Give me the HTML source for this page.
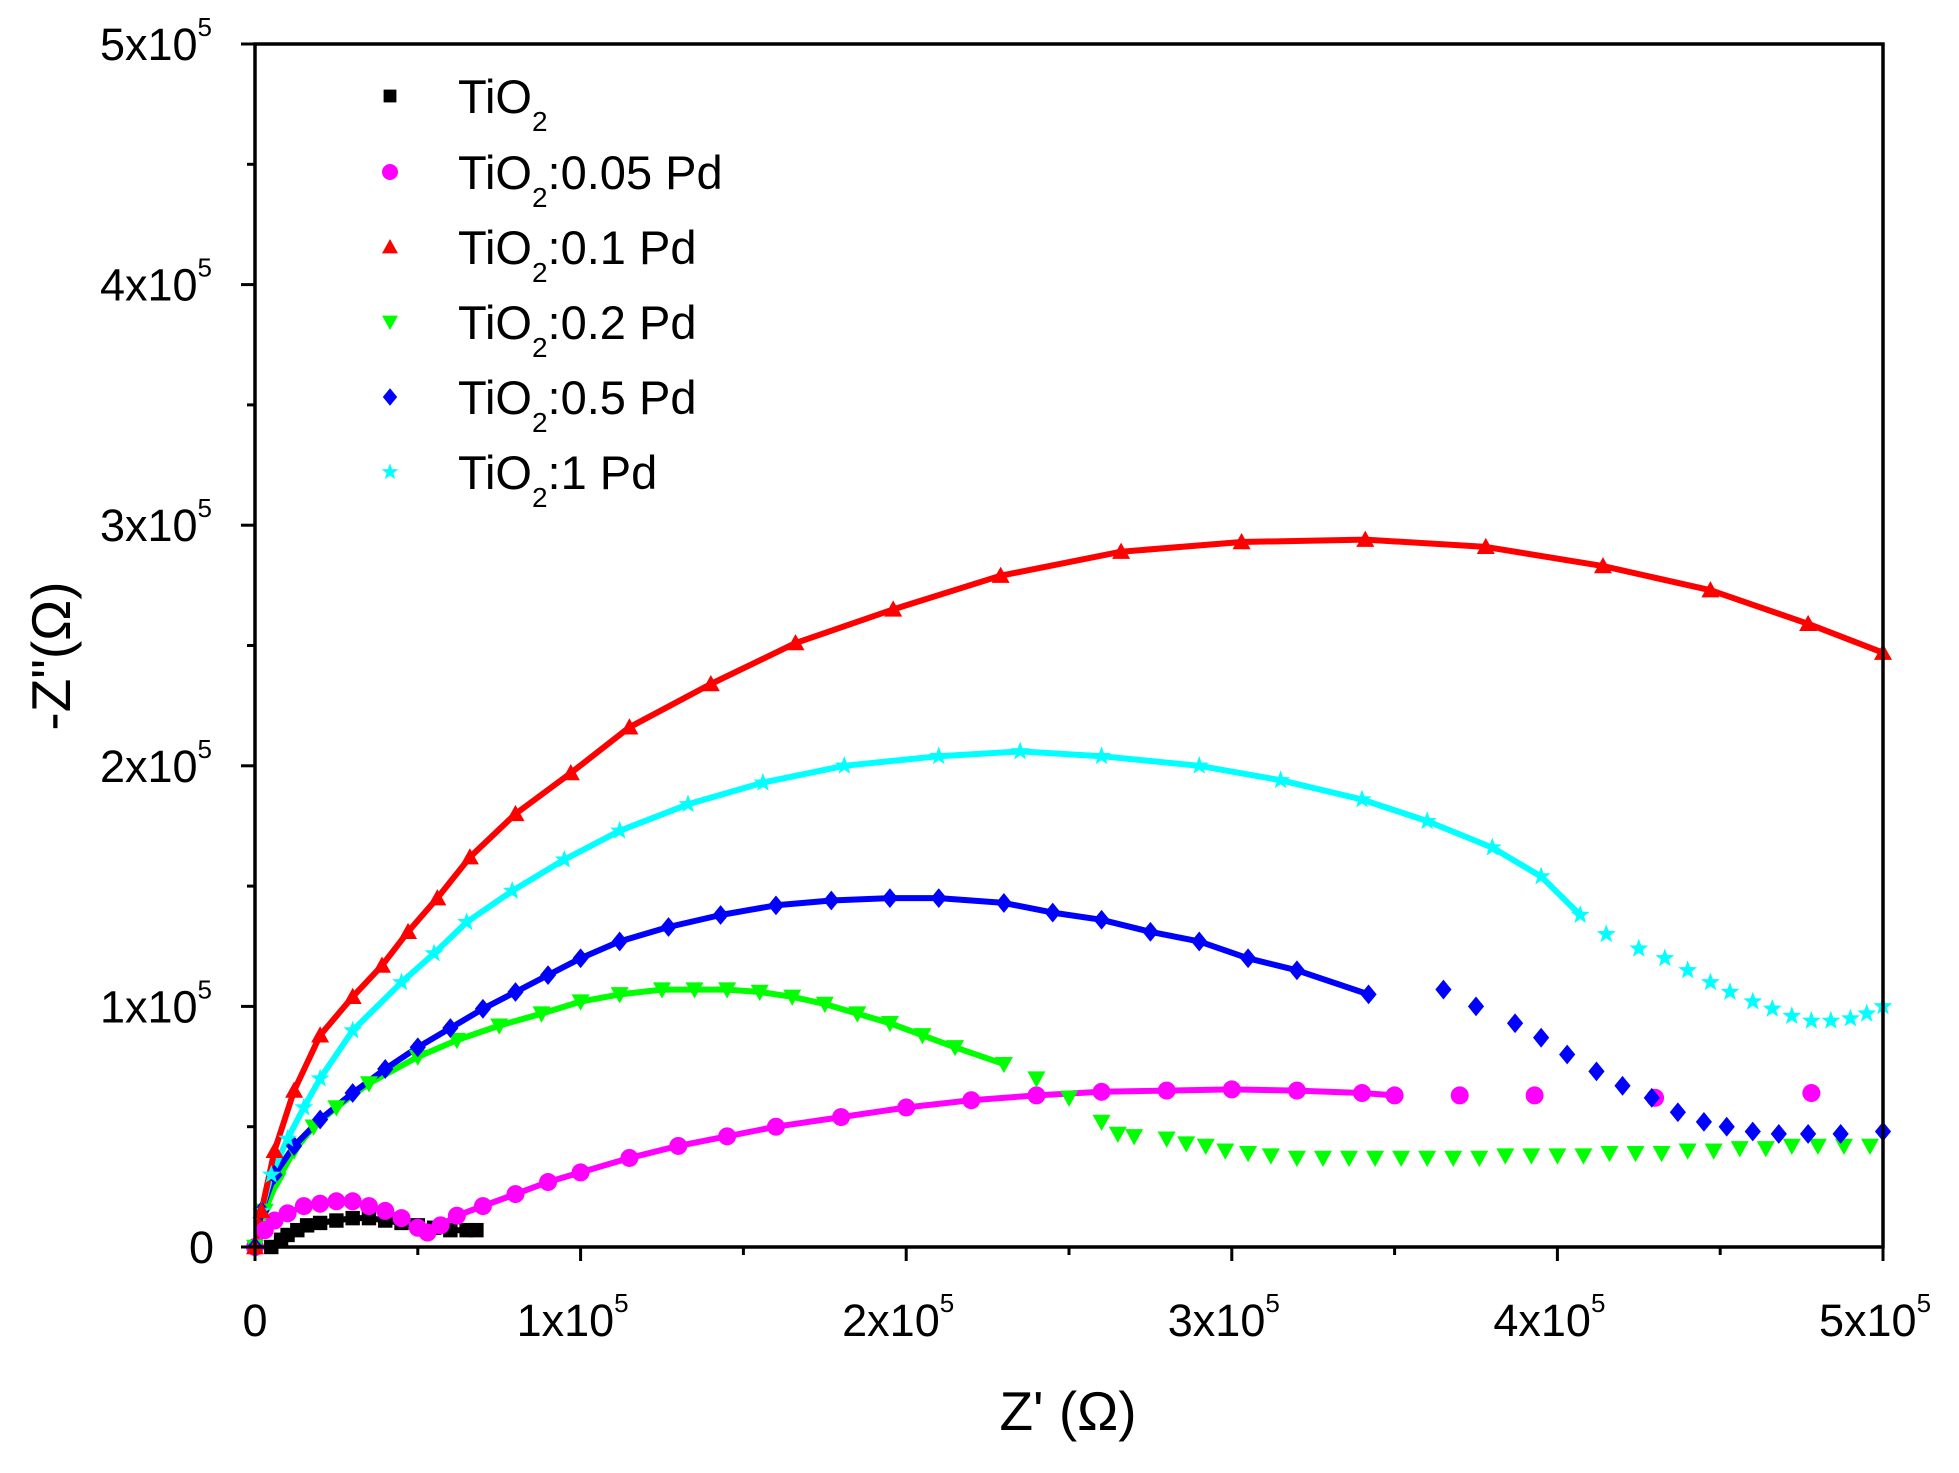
<!DOCTYPE html>
<html><head><meta charset="utf-8"><style>
body{margin:0;background:#fff;}
svg text{font-family:"Liberation Sans",sans-serif;fill:#000;}
</style></head><body>
<svg id="chart" width="1959" height="1468" xmlns="http://www.w3.org/2000/svg">
<g id="fits"></g>
<g id="marks"></g>
<g id="axes"></g>
<g id="legend"></g>
</svg>
<script>
const xTicks=[0,1,2,3,4,5];
const yTicks=[0,1,2,3,4,5];
const tickLabels=["0","1x10","2x10","3x10","4x10","5x10"];
const seriesNames=["TiO2","TiO2:0.05 Pd","TiO2:0.1 Pd","TiO2:0.2 Pd","TiO2:0.5 Pd","TiO2:1 Pd"];
// values in units of 1e5 ohm
const blackX=[0.05,0.08,0.1,0.13,0.16,0.2,0.25,0.3,0.35,0.4,0.45,0.5,0.55,0.6,0.65,0.68];
const blackY=[0.0,0.03,0.05,0.07,0.09,0.1,0.11,0.12,0.12,0.11,0.1,0.09,0.08,0.07,0.07,0.07];
const magX=[0.0,0.03,0.06,0.1,0.15,0.2,0.25,0.3,0.35,0.4,0.45,0.5,0.53,0.57,0.62,0.7,0.8,0.9,1.0,1.15,1.3,1.45,1.6,1.8,2.0,2.2,2.4,2.6,2.8,3.0,3.2,3.4,3.5];
const magY=[0.0,0.07,0.11,0.14,0.17,0.18,0.19,0.19,0.17,0.15,0.12,0.08,0.06,0.09,0.13,0.17,0.22,0.27,0.31,0.37,0.42,0.46,0.5,0.54,0.58,0.61,0.63,0.645,0.65,0.655,0.65,0.64,0.63];
const magScatX=[3.7,3.93,4.3,4.78];
const magScatY=[0.63,0.63,0.62,0.64];
const redX=[0.0,0.02,0.06,0.12,0.2,0.3,0.39,0.47,0.56,0.66,0.8,0.97,1.15,1.4,1.66,1.96,2.29,2.66,3.03,3.41,3.78,4.14,4.47,4.77,5.0];
const redY=[0.0,0.15,0.4,0.65,0.88,1.04,1.17,1.31,1.45,1.62,1.8,1.97,2.16,2.34,2.51,2.65,2.79,2.89,2.93,2.94,2.91,2.83,2.73,2.59,2.47];
const greenX=[0.0,0.03,0.07,0.12,0.18,0.25,0.35,0.5,0.62,0.75,0.88,1.0,1.12,1.25,1.35,1.45,1.55,1.65,1.75,1.85,1.95,2.05,2.15,2.3];
const greenY=[0.0,0.15,0.28,0.4,0.5,0.58,0.68,0.79,0.86,0.92,0.97,1.02,1.05,1.07,1.07,1.07,1.06,1.04,1.01,0.97,0.93,0.88,0.83,0.76];
const greenScatX=[2.4,2.5,2.6,2.65,2.7,2.8,2.86,2.92,2.98,3.05,3.12,3.2,3.28,3.36,3.44,3.52,3.6,3.68,3.76,3.84,3.92,4.0,4.08,4.16,4.24,4.32,4.4,4.48,4.56,4.64,4.72,4.8,4.88,4.96];
const greenScatY=[0.7,0.62,0.52,0.47,0.46,0.45,0.43,0.42,0.4,0.39,0.38,0.37,0.37,0.37,0.37,0.37,0.37,0.37,0.37,0.38,0.38,0.38,0.38,0.39,0.39,0.39,0.4,0.4,0.41,0.41,0.42,0.42,0.42,0.42];
const blueX=[0.0,0.02,0.06,0.12,0.2,0.3,0.4,0.5,0.6,0.7,0.8,0.9,1.0,1.12,1.27,1.43,1.6,1.77,1.95,2.1,2.3,2.45,2.6,2.75,2.9,3.05,3.2,3.42];
const blueY=[0.0,0.15,0.3,0.42,0.53,0.64,0.74,0.83,0.91,0.99,1.06,1.13,1.2,1.27,1.33,1.38,1.42,1.44,1.45,1.45,1.43,1.39,1.36,1.31,1.27,1.2,1.15,1.05];
const blueScatX=[3.65,3.75,3.87,3.95,4.03,4.12,4.2,4.29,4.37,4.45,4.52,4.6,4.68,4.77,4.87,5.0];
const blueScatY=[1.07,1.0,0.93,0.87,0.8,0.73,0.67,0.62,0.56,0.52,0.5,0.48,0.47,0.47,0.47,0.48];
const cyanX=[0.02,0.05,0.1,0.15,0.2,0.3,0.45,0.55,0.65,0.79,0.95,1.12,1.33,1.56,1.81,2.1,2.35,2.6,2.9,3.15,3.4,3.6,3.8,3.95,4.07];
const cyanY=[0.15,0.3,0.45,0.58,0.7,0.9,1.1,1.22,1.35,1.48,1.61,1.73,1.84,1.93,2.0,2.04,2.06,2.04,2.0,1.94,1.86,1.77,1.66,1.54,1.38];
const cyanScatX=[4.15,4.25,4.33,4.4,4.47,4.53,4.6,4.66,4.72,4.78,4.84,4.9,4.95,5.0];
const cyanScatY=[1.3,1.24,1.2,1.15,1.1,1.06,1.02,0.99,0.96,0.94,0.94,0.95,0.97,1.0];

const L=255,R=1883,T=44,B=1247;
const sx=v=>L+v/5*(R-L), sy=v=>B-v/5*(B-T);
const NS="http://www.w3.org/2000/svg";
function mk(tag,attrs,parent){const e=document.createElementNS(NS,tag);for(const k in attrs)e.setAttribute(k,attrs[k]);parent.appendChild(e);return e;}
const fits=document.getElementById('fits'),marks=document.getElementById('marks'),axes=document.getElementById('axes'),leg=document.getElementById('legend');
const colors=["#000000","#ff00ff","#ff0000","#00ff00","#0000ff","#00ffff"];
function marker(type,cx,cy,s,col,parent){
  let e;
  if(type===0){e=mk('rect',{x:cx-s*0.8,y:cy-s*0.8,width:s*1.6,height:s*1.6,fill:col},parent);}
  else if(type===1){e=mk('circle',{cx:cx,cy:cy,r:s,fill:col},parent);}
  else if(type===2){e=mk('polygon',{points:`${cx},${cy-s} ${cx-s},${cy+s*0.8} ${cx+s},${cy+s*0.8}`,fill:col},parent);}
  else if(type===3){e=mk('polygon',{points:`${cx},${cy+s} ${cx-s},${cy-s*0.8} ${cx+s},${cy-s*0.8}`,fill:col},parent);}
  else if(type===4){e=mk('polygon',{points:`${cx},${cy-s*1.1} ${cx+s*0.9},${cy} ${cx},${cy+s*1.1} ${cx-s*0.9},${cy}`,fill:col},parent);}
  else {let p=[];for(let i=0;i<10;i++){const r=i%2?s*0.45:s*1.1,a=-Math.PI/2+i*Math.PI/5;p.push((cx+r*Math.cos(a)).toFixed(1)+','+(cy+r*Math.sin(a)).toFixed(1));}
    e=mk('polygon',{points:p.join(' '),fill:col},parent);}
  return e;
}
function drawSeries(idx,xs,ys,line,name){
  if(line){
    const d=xs.map((x,i)=>(i?'L':'M')+sx(x).toFixed(1)+','+sy(ys[i]).toFixed(1)).join(' ');
    const p=mk('path',{d:d,fill:'none',stroke:colors[idx],'stroke-width':6,'stroke-linejoin':'round'},fits);
    
    
  }
  xs.forEach((x,i)=>{const m=marker(idx,sx(x),sy(ys[i]),9,colors[idx],marks);
    
    });
}
drawSeries(0,blackX,blackY,true,'tio2');
drawSeries(1,magX,magY,true,'tio2-005pd');
drawSeries(1,magScatX,magScatY,false,'tio2-005pd');
drawSeries(3,greenX,greenY,true,'tio2-02pd');
drawSeries(3,greenScatX,greenScatY,false,'tio2-02pd');
drawSeries(4,blueX,blueY,true,'tio2-05pd');
drawSeries(4,blueScatX,blueScatY,false,'tio2-05pd');
drawSeries(5,cyanX,cyanY,true,'tio2-1pd');
drawSeries(5,cyanScatX,cyanScatY,false,'tio2-1pd');
drawSeries(2,redX,redY,true,'tio2-01pd');

const fr=mk('rect',{x:L,y:T,width:R-L,height:B-T,fill:'none',stroke:'#000','stroke-width':3.5},axes);


for(let v=0;v<=5;v+=0.5){
  const major=Number.isInteger(v),len=major?14:8;
  const t1=mk('line',{x1:sx(v),x2:sx(v),y1:B,y2:B+len,stroke:'#000','stroke-width':3},axes);
  
  
  const t2=mk('line',{x1:L,x2:L-len,y1:sy(v),y2:sy(v),stroke:'#000','stroke-width':3},axes);
  
  
}
xTicks.forEach((v,i)=>{
  const t=mk('text',{x:sx(v)+(i?-8:0),y:1336,'font-size':45,'text-anchor':'middle'},axes);
  t.textContent=tickLabels[i];
  if(i){const s=mk('tspan',{'font-size':26,dy:-24},t);s.textContent='5';}
  
  
});
yTicks.forEach((v,i)=>{
  const t=mk('text',{x:i?212:214,y:sy(v)+16,'font-size':45,'text-anchor':'end'},axes);
  t.textContent=tickLabels[i];
  if(i){const s=mk('tspan',{'font-size':26,dy:-24},t);s.textContent='5';}
  
  
});
const xt=mk('text',{x:1068,y:1430,'font-size':55,'text-anchor':'middle'},axes);
xt.textContent="Z' (Ω)";


const yt=mk('text',{x:0,y:0,'font-size':55,'text-anchor':'middle',transform:'translate(70,656) rotate(-90)'},axes);
yt.textContent='-Z"(Ω)';


const rowsY=[96,172,247,322,397,472];
seriesNames.forEach((n,i)=>{
  const g=mk('g',{},leg);
  
  
  marker(i,390,rowsY[i],8,colors[i],g);
  const t=mk('text',{x:458,y:rowsY[i]+17,'font-size':47},g);
  const a=mk('tspan',{},t);a.textContent='TiO';
  const b=mk('tspan',{'font-size':28,dy:18},t);b.textContent='2';
  const rest=n.slice(4);
  if(rest){const c=mk('tspan',{dy:-18},t);c.textContent=rest;}
});
</script>
</body></html>
